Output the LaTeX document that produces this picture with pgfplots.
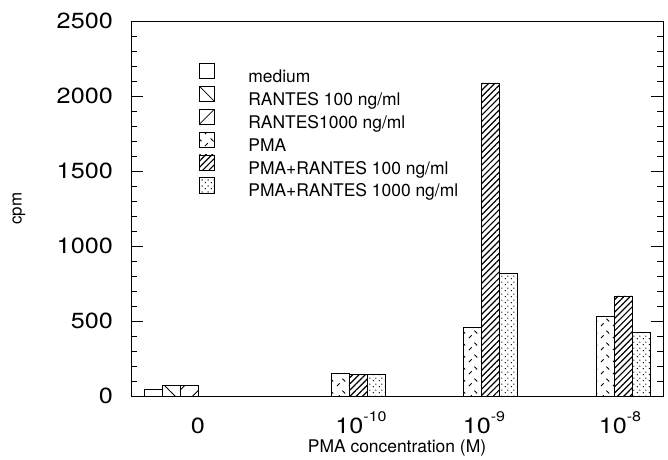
\documentclass[border=0pt]{standalone}
\usepackage{fontspec}
\setmainfont{TeX Gyre Heros}
\newfontfamily\tickfont{TeX Gyre Heros}[FakeStretch=1.15]
\usepackage{pgfplots}
\pgfplotsset{compat=1.18}
\usetikzlibrary{patterns,patterns.meta}

\pgfdeclarepatternformonly{pmadash}{\pgfqpoint{0bp}{0bp}}{\pgfqpoint{12bp}{12bp}}{\pgfqpoint{12bp}{12bp}}{%
  \pgfsetlinewidth{0.9bp}%
  \pgfpathmoveto{\pgfqpoint{1bp}{2bp}}\pgfpathlineto{\pgfqpoint{4bp}{5bp}}%
  \pgfpathmoveto{\pgfqpoint{7bp}{10bp}}\pgfpathlineto{\pgfqpoint{10bp}{7bp}}%
  \pgfusepath{stroke}}
\pgfdeclarepatternformonly{sparsedots}{\pgfqpoint{0bp}{0bp}}{\pgfqpoint{6bp}{6bp}}{\pgfqpoint{6bp}{6bp}}{%
  \pgfpathcircle{\pgfqpoint{1.5bp}{1.5bp}}{0.8bp}%
  \pgfpathcircle{\pgfqpoint{4.5bp}{4.5bp}}{0.8bp}%
  \pgfusepath{fill}}

\newcommand{\tl}{\tickfont\fontsize{22}{24}\selectfont}
\newcommand{\sexp}[1]{\tl 10\raisebox{11.5bp}{\fontsize{14}{14}\selectfont #1}}

\tikzset{densehatch/.style={pattern={Lines[angle=45, distance=4.4bp, line width=1.2bp]}}}
\pgfplotsset{
  barbase/.style={ybar, bar shift=0pt, bar width=18, draw=black, line width=0.8bp, forget plot},
}

\begin{document}
\begin{tikzpicture}
\path[use as bounding box] (-131bp,-64bp) rectangle (537bp,396bp);
\begin{axis}[
  scale only axis, width=532bp, height=375bp,
  at={(0,0)}, anchor=south west,
  xmin=131, xmax=663, ymin=0, ymax=2500,
  axis line style={line width=0.8bp},
  ytick={0,500,1000,1500,2000,2500},
  minor y tick num=4,
  major tick length=12bp, minor tick length=6bp,
  tick style={line width=0.8bp, black},
  xtick={198,361,484,620},
  xticklabels={{\tl 0},{\sexp{-10}},{\sexp{-9}},{\sexp{-8}}},
  xtick style={draw=none},
  xticklabel style={anchor=base, inner sep=0pt, yshift=-37bp},
  yticklabel style={font=\tl, anchor=east, inner sep=0pt, xshift=-18bp},
  /pgf/number format/assume math mode=true,
  /pgf/number format/1000 sep={},
  xlabel={PMA concentration (M)},
  xlabel style={font=\fontsize{17.5}{20}\selectfont, at={(axis description cs:0.5,-0.152)}, anchor=base, inner sep=0pt},
  ylabel={cpm},
  ylabel style={font=\fontsize{17}{20}\selectfont, at={(axis description cs:-0.2105,0.5)}, anchor=center, inner sep=0pt},
  legend style={draw=none, fill=none, at={(axis cs:199,2220)}, anchor=north west,
    inner sep=0pt, outer sep=0pt, row sep=-0.5bp, /tikz/column sep=0pt,
    font=\fontsize{17.5}{20}\selectfont,
    nodes={inner sep=0pt, text height=14bp, text depth=4bp}},
  legend cell align=left,
]
\addplot[barbase, fill=white] coordinates {(153,47)};
\addplot[barbase, pattern={Lines[angle=-45, distance=13bp, line width=0.8bp]}] coordinates {(171,73)};
\addplot[barbase, pattern={Lines[angle=45, distance=13bp, line width=0.8bp]}] coordinates {(189,73)};
\addplot[barbase, pattern=pmadash] coordinates {(340,151) (472.5,458) (605,529)};
\addplot[barbase, densehatch] coordinates {(358,144) (490.5,2087) (623,667)};
\addplot[barbase, pattern=sparsedots] coordinates {(376,146) (508.5,816) (641,424)};

\addlegendimage{legend image code/.code={\draw[draw=black, line width=0.8bp, fill=white] (0bp,-1bp) rectangle (15bp,14bp); \path[draw=none] (0bp,0bp) -- (49bp,0bp);}}
\addlegendentry{medium}
\addlegendimage{legend image code/.code={\draw[draw=black, line width=0.8bp, fill=white] (0bp,-1bp) rectangle (15bp,14bp); \draw[draw=black, line width=0.8bp] (0bp,14bp) -- (15bp,-1bp); \path[draw=none] (0bp,0bp) -- (49bp,0bp);}}
\addlegendentry{RANTES 100 ng/ml}
\addlegendimage{legend image code/.code={\draw[draw=black, line width=0.8bp, fill=white] (0bp,-1bp) rectangle (15bp,14bp); \draw[draw=black, line width=0.8bp] (0bp,-1bp) -- (15bp,14bp); \path[draw=none] (0bp,0bp) -- (49bp,0bp);}}
\addlegendentry{RANTES1000 ng/ml}
\addlegendimage{legend image code/.code={\draw[draw=black, line width=0.8bp, pattern=pmadash] (0bp,-1bp) rectangle (15bp,14bp); \path[draw=none] (0bp,0bp) -- (49bp,0bp);}}
\addlegendentry{PMA}
\addlegendimage{legend image code/.code={\draw[draw=black, line width=0.8bp, densehatch] (0bp,-1bp) rectangle (15bp,14bp); \path[draw=none] (0bp,0bp) -- (49bp,0bp);}}
\addlegendentry{PMA+RANTES 100 ng/ml}
\addlegendimage{legend image code/.code={\draw[draw=black, line width=0.8bp, pattern=sparsedots] (0bp,-1bp) rectangle (15bp,14bp); \path[draw=none] (0bp,0bp) -- (49bp,0bp);}}
\addlegendentry{PMA+RANTES 1000 ng/ml}
\end{axis}
\end{tikzpicture}
\end{document}
